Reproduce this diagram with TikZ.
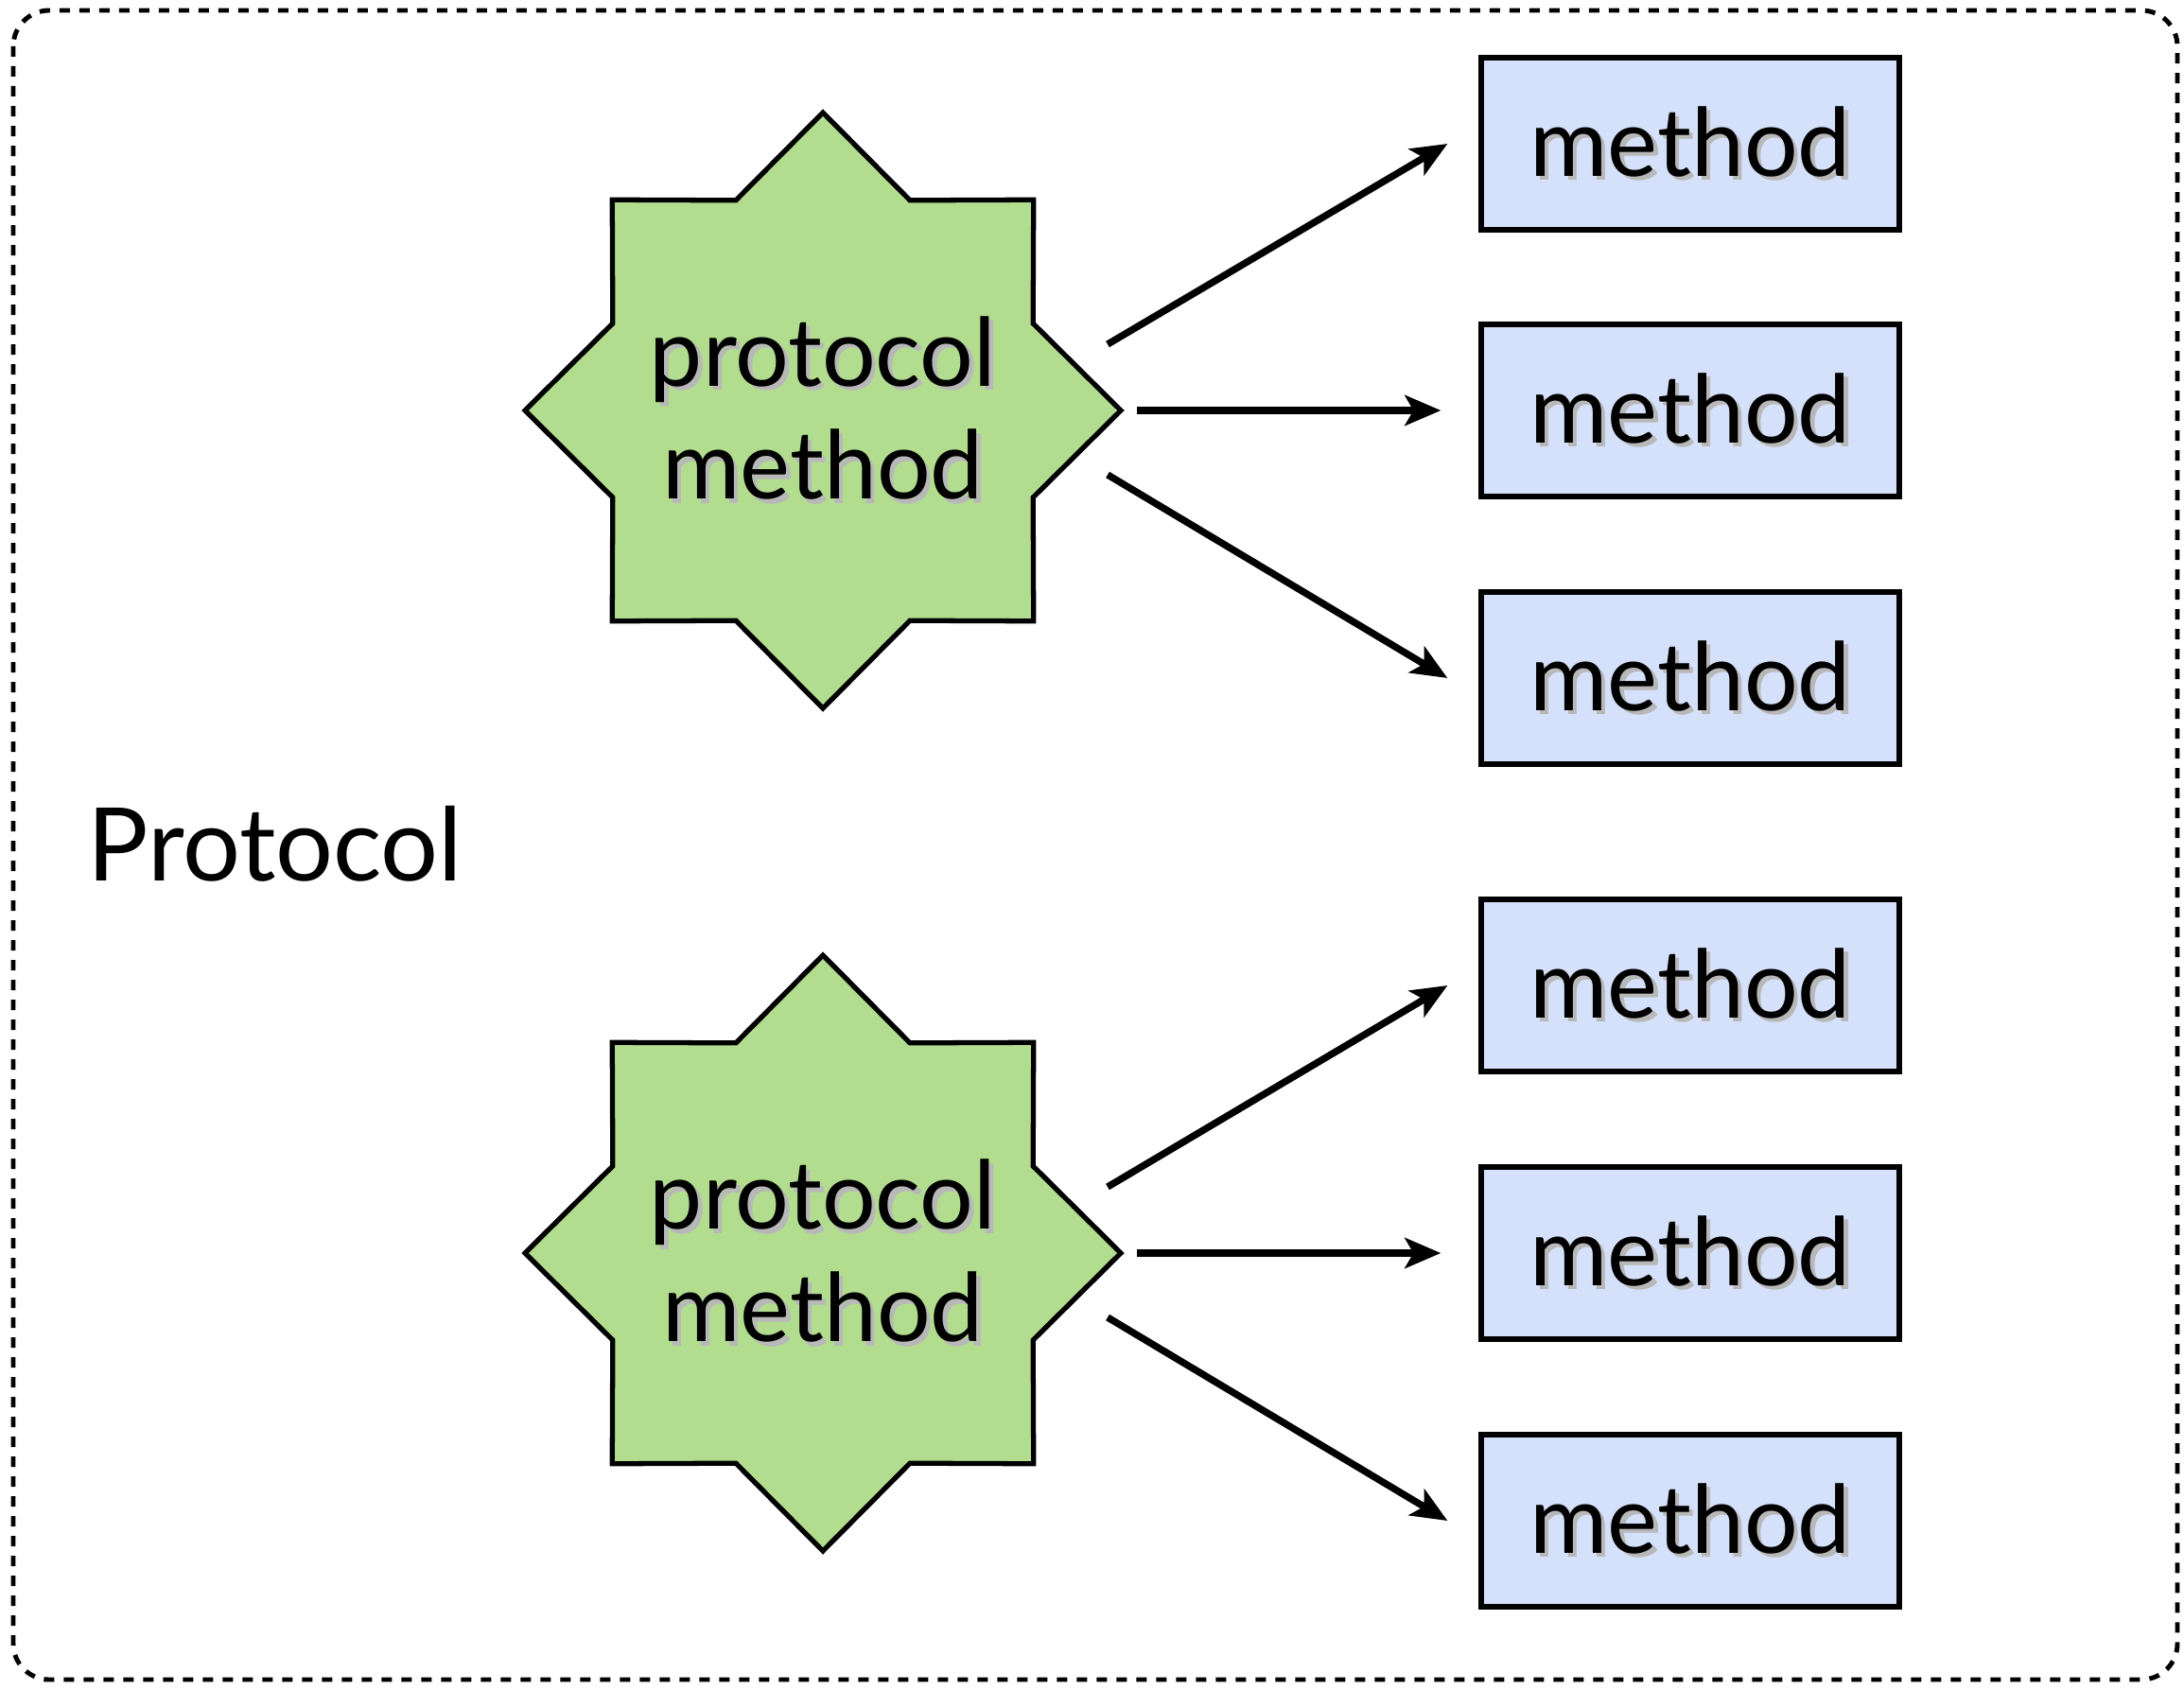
\documentclass[tikz,border=0pt]{standalone}
\usepackage{fontspec}
\setmainfont{Lato}
\usetikzlibrary{shapes.geometric,arrows.meta,positioning}

\definecolor{starfill}{RGB}{178,221,143}
\definecolor{boxfill}{RGB}{213,225,250}

% label text with a faint drop shadow
\newcommand{\shd}[1]{\leavevmode\rlap{\kern0.045em\raisebox{-0.045em}{\color{black!28}#1}}#1}

\tikzset{
  protostar/.style={star, star points=8, star point ratio=1.31,
    minimum size=6.3cm, inner sep=0pt, draw, line width=1.5pt,
    fill=starfill,
    label={[align=center, font=\fontsize{28.5}{34}\selectfont]center:#1}},
  methodbox/.style={draw, line width=1.5pt, fill=boxfill,
    minimum width=4.42cm, minimum height=1.82cm,
    font=\fontsize{28.5}{34}\selectfont},
  callarrow/.style={line width=2.1pt,
    -{Stealth[length=0.38cm,width=0.32cm,inset=0.09cm]}},
}

\begin{document}
\begin{tikzpicture}
\useasboundingbox (0,0) rectangle (23.09,-17.87); % fix margins
\draw [line width=1.4pt, dash pattern=on 0.11cm off 0.1cm, rounded corners=0.38cm]
  (0.14,-0.11) rectangle (23.02,-17.76);
\node [anchor=base west, font=\fontsize{30.6}{34}\selectfont] (proto) at (0.80,-9.31) {Protocol};

% upper protocol method
\node [protostar={\shd{protocol}\\\shd{method}}] (pm1) at (8.70,-4.34) {};
\node [methodbox] (m1) at (17.87,-1.52) {\shd{method}};
\node [methodbox] (m2) at (17.87,-4.34) {\shd{method}};
\node [methodbox] (m3) at (17.87,-7.17) {\shd{method}};
\draw [callarrow] ([shift={(3.01,0.70)}]pm1.center) -- ([xshift=-0.33cm]m1.west);
\draw [callarrow] ([xshift=3.32cm]pm1.center) -- ([xshift=-0.40cm]m2.west);
\draw [callarrow] ([shift={(3.01,-0.68)}]pm1.center) -- ([xshift=-0.33cm]m3.west);

% lower protocol method
\node [protostar={\shd{protocol}\\\shd{method}}] (pm2) at (8.70,-13.25) {};
\node [methodbox] (m4) at (17.87,-10.42) {\shd{method}};
\node [methodbox] (m5) at (17.87,-13.25) {\shd{method}};
\node [methodbox] (m6) at (17.87,-16.08) {\shd{method}};
\draw [callarrow] ([shift={(3.01,0.70)}]pm2.center) -- ([xshift=-0.33cm]m4.west);
\draw [callarrow] ([xshift=3.32cm]pm2.center) -- ([xshift=-0.40cm]m5.west);
\draw [callarrow] ([shift={(3.01,-0.68)}]pm2.center) -- ([xshift=-0.33cm]m6.west);
\end{tikzpicture}
\end{document}
